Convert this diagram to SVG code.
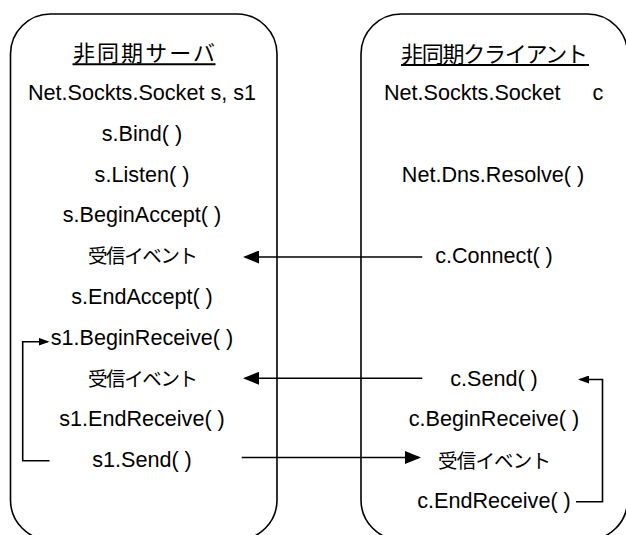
<svg xmlns="http://www.w3.org/2000/svg" width="626" height="535" viewBox="0 0 626 535">
<style>
.box{fill:none;stroke:#000;stroke-width:1.6}
.t{font-family:"Liberation Sans","Noto Sans CJK JP",sans-serif;font-size:21.6px;fill:#000;text-anchor:middle}
.j{font-family:"Liberation Sans","Noto Sans CJK JP",sans-serif;font-size:19.5px;fill:#000;text-anchor:middle}
.h{font-family:"Liberation Sans","Noto Sans CJK JP",sans-serif;font-size:22px;fill:#000;text-anchor:middle}
.ul{stroke:#000;stroke-width:2}
.c{fill:none;stroke:#000;stroke-width:1.6}
</style>
<defs>
<marker id="big" markerUnits="userSpaceOnUse" markerWidth="16" markerHeight="13" refX="14" refY="6.5" orient="auto">
<path d="M0,0 L16,6.5 L0,13 z" fill="#000"/>
</marker>
<marker id="small" markerUnits="userSpaceOnUse" markerWidth="11" markerHeight="8" refX="9" refY="4" orient="auto">
<path d="M0,0 L11,4 L0,8 z" fill="#000"/>
</marker>
</defs>
<rect width="626" height="535" fill="#fff"/>
<g id="server">
<rect class="box" x="10.5" y="14" width="266.5" height="526" rx="40" ry="40"/>
<text class="h" x="144" y="61" textLength="142" lengthAdjust="spacing">非同期サーバ</text>
<line class="ul" x1="72.5" y1="64.3" x2="215.5" y2="64.3"/>
</g>
<g id="client">
<rect class="box" x="361" y="14" width="266.5" height="526" rx="40" ry="40"/>
<text class="h" x="494.5" y="61.5" textLength="187" lengthAdjust="spacing">非同期クライアント</text>
<line class="ul" x1="401" y1="65" x2="589" y2="65"/>
</g>
<g id="s-socket"><text class="t" x="142" y="100">Net.Sockts.Socket s, s1</text></g>
<g id="s-bind"><text class="t" x="142" y="140.8">s.Bind( )</text></g>
<g id="s-listen"><text class="t" x="142" y="181.6">s.Listen( )</text></g>
<g id="s-beginaccept"><text class="t" x="142" y="222.4">s.BeginAccept( )</text></g>
<g id="s-event1"><text class="j" x="143" y="263" textLength="110" lengthAdjust="spacing">受信イベント</text></g>
<g id="s-endaccept"><text class="t" x="142" y="304">s.EndAccept( )</text></g>
<g id="s-beginreceive"><text class="t" x="142" y="344.8">s1.BeginReceive( )</text></g>
<g id="s-event2"><text class="j" x="143" y="385.5" textLength="110" lengthAdjust="spacing">受信イベント</text></g>
<g id="s-endreceive"><text class="t" x="142" y="426.4">s1.EndReceive( )</text></g>
<g id="s-send"><text class="t" x="142" y="467.2">s1.Send( )</text></g>
<g id="c-socket"><text class="t" x="384" y="100" style="text-anchor:start">Net.Sockts.Socket<tspan x="592.5">c</tspan></text></g>
<g id="c-resolve"><text class="t" x="493" y="181.6">Net.Dns.Resolve( )</text></g>
<g id="c-connect"><text class="t" x="494" y="263.2">c.Connect( )</text></g>
<g id="c-send"><text class="t" x="494" y="385.6">c.Send( )</text></g>
<g id="c-beginreceive"><text class="t" x="494" y="426.4">c.BeginReceive( )</text></g>
<g id="c-event"><text class="j" x="494.5" y="467.5" textLength="113" lengthAdjust="spacing">受信イベント</text></g>
<g id="c-endreceive"><text class="t" x="494" y="508">c.EndReceive( )</text></g>
<g id="connectors">
<path class="c" d="M422.3,257 H245" marker-end="url(#big)"/>
<path class="c" d="M422.3,378.3 H245" marker-end="url(#big)"/>
<path class="c" d="M241.7,457.5 H419" marker-end="url(#big)"/>
<path class="c" d="M49.5,460.7 H22.7 V341.7 H47.5" marker-end="url(#small)"/>
<path class="c" d="M576,501.7 H602.5 V379.5 H580" marker-end="url(#small)"/>
</g>
</svg>
